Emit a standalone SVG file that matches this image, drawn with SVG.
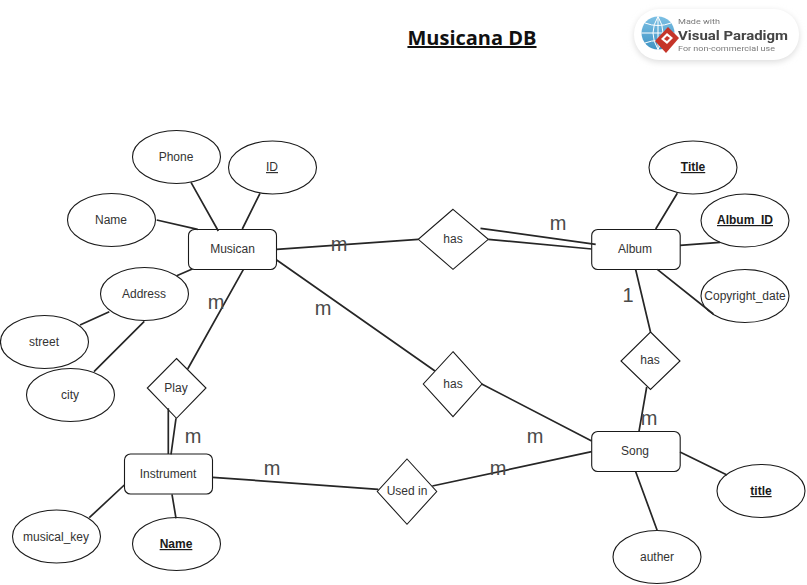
<svg xmlns="http://www.w3.org/2000/svg" width="807" height="585" viewBox="0 0 807 585">
<defs>
<linearGradient id="globe" x1="0" y1="0" x2="0" y2="1"><stop offset="0" stop-color="#7cc0e4"/><stop offset="1" stop-color="#3f93c4"/></linearGradient>
<filter id="soft" x="-10%" y="-30%" width="120%" height="160%"><feGaussianBlur stdDeviation="3"/></filter>
<filter id="wm" x="-5%" y="-5%" width="110%" height="110%"><feGaussianBlur stdDeviation="0.35"/></filter>
</defs>
<style>
.n{fill:#fff;stroke:#1a1a1a;stroke-width:1.1}
.c{fill:none;stroke:#262626;stroke-width:1.7}
text{font-family:"Liberation Sans",Arial,sans-serif;font-size:12px;fill:#333;text-anchor:middle}
.b{font-weight:bold;text-decoration:underline;fill:#1a1a1a}
.u{text-decoration:underline}
.m{font-size:20px;fill:#4a4a4a}
.t{font-family:"Open Sans","Liberation Sans",sans-serif;font-size:20px;font-weight:bold;text-decoration:underline;fill:#111}
.w{font-family:"Roboto","Liberation Sans",sans-serif;text-anchor:start;font-size:8px;fill:#7a7a7a}
</style>
<rect width="807" height="585" fill="#fff"/>
<g id="musican"><rect class="n" x="188.500" y="229.500" width="88" height="40" rx="6"/><text x="232.500" y="253">Musican</text></g>
<g id="album"><rect class="n" x="591.700" y="229.500" width="88.500" height="40" rx="6"/><text x="635" y="253">Album</text></g>
<g id="song"><rect class="n" x="591.700" y="431.500" width="88.500" height="40" rx="6"/><text x="635" y="455">Song</text></g>
<g id="instrument"><rect class="n" x="124.500" y="454" width="88" height="40" rx="6"/><text x="168" y="478">Instrument</text></g>
<g id="phone"><ellipse class="n" cx="176.500" cy="157" rx="44" ry="26.500"/><text x="176" y="161">Phone</text></g>
<g id="id"><ellipse class="n" cx="272.500" cy="167.500" rx="44" ry="26.500"/><text class="u" x="272" y="171">ID</text></g>
<g id="name"><ellipse class="n" cx="111.500" cy="220" rx="44" ry="26.500"/><text x="111" y="224">Name</text></g>
<g id="address"><ellipse class="n" cx="144.500" cy="294" rx="44" ry="26.500"/><text x="144" y="298">Address</text></g>
<g id="street"><ellipse class="n" cx="44.500" cy="342" rx="44" ry="26.500"/><text x="44" y="346">street</text></g>
<g id="city"><ellipse class="n" cx="70.500" cy="395" rx="44" ry="26.500"/><text x="70" y="399">city</text></g>
<g id="title"><ellipse class="n" cx="693" cy="167.500" rx="44" ry="26.500"/><text class="b" x="693" y="171">Title</text></g>
<g id="album_id"><ellipse class="n" cx="745" cy="220.500" rx="44" ry="26.500"/><text class="b" x="745" y="224">Album_ID</text></g>
<g id="copyright_date"><ellipse class="n" cx="745" cy="296" rx="44" ry="26.500"/><text x="745" y="300">Copyright_date</text></g>
<g id="song_title"><ellipse class="n" cx="761" cy="491" rx="44" ry="26.500"/><text class="b" x="761" y="495">title</text></g>
<g id="auther"><ellipse class="n" cx="657" cy="557" rx="44" ry="26.500"/><text x="657" y="561">auther</text></g>
<g id="musical_key"><ellipse class="n" cx="56.500" cy="536.500" rx="44" ry="26.500"/><text x="56" y="541">musical_key</text></g>
<g id="instrument_name"><ellipse class="n" cx="176.500" cy="544" rx="44" ry="26.500"/><text class="b" x="176" y="548">Name</text></g>
<g id="has1"><polygon class="n" points="453,209.300 488.300,239.300 453,269.300 418.300,239.300"/><text x="453" y="243">has</text></g>
<g id="has2"><polygon class="n" points="453,351.700 482,384 453,416.700 423.300,384"/><text x="453" y="388">has</text></g>
<g id="has3"><polygon class="n" points="650.500,332 680,361 650.500,389.500 621,361"/><text x="650" y="364">has</text></g>
<g id="play"><polygon class="n" points="176.500,358.500 206,388 176.500,418.300 147.300,388"/><text x="176" y="392">Play</text></g>
<g id="usedin"><polygon class="n" points="407,459 436.700,491.500 407,524.300 377.300,491.500"/><text x="407" y="495">Used in</text></g>
<g id="connectors">
<path class="c" d="M191 182.300L218.300 231M260 193.300L242.300 229M156.700 220L197.700 229.300M176.700 275.700L192.300 269M109.300 311.700L80 325M144.300 321.300L94 371.700M243.300 269.700L187.700 369M276.700 249.300L418.300 239.300M480.500 228.300L595.700 244.300M488.300 239.300L591.700 249M276.700 260L435 371M481.700 384L591.700 441M635.700 269.700L650.500 332M655.700 229L677.300 193.300M680 245.300L720 242.300M657.300 269.300L713.300 314M646.700 387L639 431.300M168.300 408.300L168.300 454M176 418.300L171 454.300M124.300 485L89.300 517.700M172 494.300L176 518.300M212.700 477.300L378.300 489.300M432.300 486L591.700 451.700M680 452L727 475M635.700 471.700L657.300 530.700"/>
</g>
<g id="labels">
<text class="t" x="472" y="45">Musicana DB</text>
<text class="m" x="339" y="251">m</text>
<text class="m" x="558" y="230">m</text>
<text class="m" x="216" y="309">m</text>
<text class="m" x="323" y="315">m</text>
<text class="m" x="628" y="302">1</text>
<text class="m" x="649" y="425">m</text>
<text class="m" x="193" y="443">m</text>
<text class="m" x="272" y="475">m</text>
<text class="m" x="498" y="475">m</text>
<text class="m" x="535" y="443">m</text>
</g>
<g id="watermark">
<rect x="634" y="11" width="165" height="51" rx="25" fill="#dcdcdc" filter="url(#soft)"/>
<rect x="634" y="9" width="165" height="51" rx="25" fill="#fff"/>
<g filter="url(#wm)">
<circle cx="658" cy="33" r="16.500" fill="url(#globe)"/>
<path d="M641.500 33H674.500M658 16.500V49.500M645 23Q658 28 671 23M645 43Q658 38 671 43M658 16.500Q648 33 658 49.500M658 16.500Q668 33 658 49.500" fill="none" stroke="#fff" stroke-width="1"/>
<polygon points="668,27 679,38 666,53 655,41" fill="#c5352a"/>
<polygon points="667,33 673,38 667,44 661,39" fill="#fff"/>
<polygon points="667,36 670,38 667,41 664,39" fill="#c5352a"/>
<text class="w" x="678" y="24" textLength="42" lengthAdjust="spacingAndGlyphs">Made with</text>
<text class="w" x="678" y="39.500" textLength="110" lengthAdjust="spacingAndGlyphs" style="font-size:13.500px;font-weight:bold;fill:#444">Visual Paradigm</text>
<text class="w" x="678" y="50.500" textLength="97" lengthAdjust="spacingAndGlyphs">For non-commercial use</text>
</g>
</g>
</svg>
